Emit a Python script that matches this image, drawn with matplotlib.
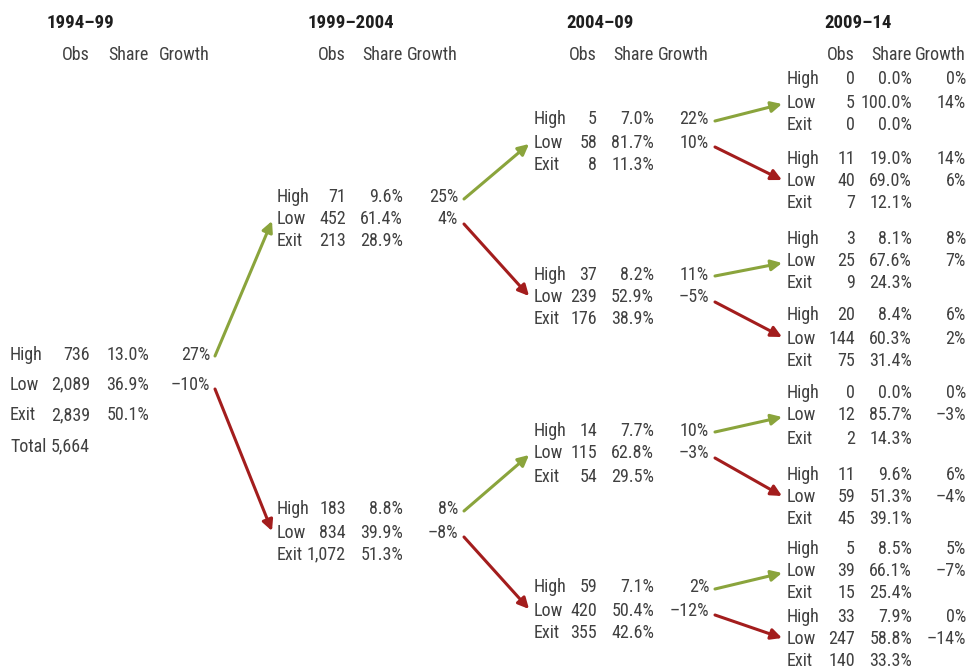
import matplotlib
matplotlib.use("Agg")
import matplotlib.pyplot as plt

# ---- data ----
periods = ["1994–99", "1999–2004", "2004–09", "2009–14"]
row_labels = ["High", "Low", "Exit"]

obs1 = [[736, 2089, 2839]]
share1 = [[13.0, 36.9, 50.1]]
growth1 = [[27, -10]]
total1 = 5664

obs2 = [[71, 452, 213], [183, 834, 1072]]
share2 = [[9.6, 61.4, 28.9], [8.8, 39.9, 51.3]]
growth2 = [[25, 4], [8, -8]]

obs3 = [[5, 58, 8], [37, 239, 176], [14, 115, 54], [59, 420, 355]]
share3 = [[7.0, 81.7, 11.3], [8.2, 52.9, 38.9], [7.7, 62.8, 29.5], [7.1, 50.4, 42.6]]
growth3 = [[22, 10], [11, -5], [10, -3], [2, -12]]

obs4 = [[0, 5, 0], [11, 40, 7], [3, 25, 9], [20, 144, 75],
        [0, 12, 2], [11, 59, 45], [5, 39, 15], [33, 247, 140]]
share4 = [[0.0, 100.0, 0.0], [19.0, 69.0, 12.1], [8.1, 67.6, 24.3], [8.4, 60.3, 31.4],
          [0.0, 85.7, 14.3], [9.6, 51.3, 39.1], [8.5, 66.1, 25.4], [7.9, 58.8, 33.3]]
growth4 = [[0, 14], [14, 6], [8, 7], [6, 2], [0, -3], [6, -4], [5, -7], [0, -14]]

# ---- layout (pixels) ----
# per block: label left, obs right, share right, growth right, header centre
cols = [(10, 90, 149, 210, 80),
        (277, 346, 403, 458, 351),
        (534, 597, 654, 709, 600),
        (787, 855, 912, 966, 858)]
# y of High/Low/Exit rows for each node
rows1 = [(353, 383, 414)]
rows2 = [(196, 218, 240), (508, 531, 553)]
rows3 = [(118, 141, 163), (273, 296, 318), (429, 452, 475), (586, 609, 631)]
rows4 = [(78, 101, 124), (157, 180, 202), (237, 260, 282), (314, 337, 359),
         (392, 414, 437), (473, 496, 518), (547, 570, 592), (616, 638, 659)]

blocks = [(obs1, share1, growth1, rows1), (obs2, share2, growth2, rows2),
          (obs3, share3, growth3, rows3), (obs4, share4, growth4, rows4)]

plt.rcParams["font.family"] = ["Roboto Condensed", "DejaVu Sans"]

txt = "#404040"
green = "#8aa43c"
red = "#a31d1d"
fs = 13
dy = 1.5  # text bbox centre sits a bit high because of descenders

fig = plt.figure(figsize=(9.68, 6.69), dpi=100)
ax = fig.add_axes([0, 0, 1, 1])
ax.set_xlim(0, 968)
ax.set_ylim(669, 0)
ax.axis("off")


def fmt_growth(g):
    return ("–" if g < 0 else "") + f"{abs(g)}%"


for b, (obs, share, growth, rows) in enumerate(blocks):
    lx, ox, sx, gx, hx = cols[b]
    ax.text(hx, 22 + dy, periods[b], ha="center", va="center", fontsize=fs + 0.5,
            fontweight="bold", color="#1e1e1e")
    for name, x in zip(["Obs", "Share", "Growth"], [ox, sx, gx]):
        ax.text(x, 53 + dy, name, ha="right", va="center", fontsize=fs, color=txt)
    for n in range(len(obs)):
        for r in range(3):
            y = rows[n][r] + dy
            ax.text(lx, y, row_labels[r], ha="left", va="center", fontsize=fs, color=txt)
            ax.text(ox, y, f"{obs[n][r]:,}", ha="right", va="center", fontsize=fs, color=txt)
            ax.text(sx, y, f"{share[n][r]:.1f}%", ha="right", va="center", fontsize=fs, color=txt)
            if r < 2:
                ax.text(gx, y, fmt_growth(growth[n][r]), ha="right", va="center",
                        fontsize=fs, color=txt)

# total row of the first block
ax.text(cols[0][0], 445 + dy, "Total", ha="left", va="center", fontsize=fs, color=txt)
ax.text(cols[0][1], 445 + dy, f"{total1:,}", ha="right", va="center", fontsize=fs, color=txt)

# arrows: each node's High row -> child (green), Low row -> child (red)
for b in range(3):
    rows = blocks[b][3]
    child_rows = blocks[b + 1][3]
    x0 = cols[b][3] + 6
    x1 = cols[b + 1][0] - 5
    if b == 0:
        x0 = cols[b][3] + 5
    for n in range(len(rows)):
        for k, colr in enumerate([green, red]):
            child = child_rows[2 * n + k]
            y0 = rows[n][k] + (3 if k == 0 else 6)
            y1 = child[1] + (3 if k == 0 else 0)
            ax.annotate("", xy=(x1, y1), xytext=(x0, y0),
                        arrowprops=dict(arrowstyle="-|>", color=colr, lw=2.2,
                                        mutation_scale=16, shrinkA=0, shrinkB=0))

fig.savefig("out.png", dpi=100)
